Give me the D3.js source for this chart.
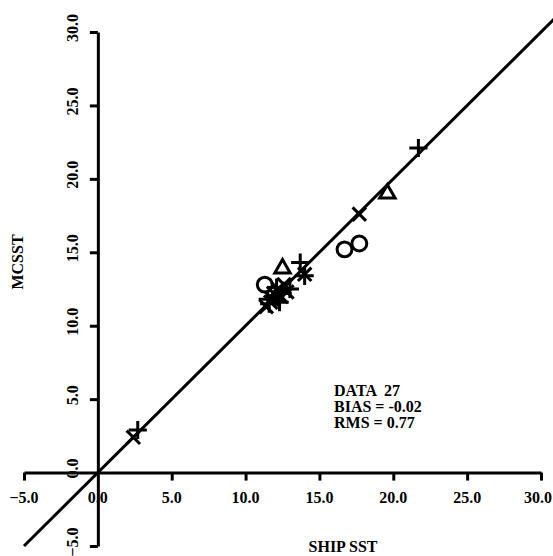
<!DOCTYPE html>
<html><head><meta charset="utf-8">
<script src="https://cdn.jsdelivr.net/npm/d3@7"></script>
<style>body{margin:0;background:#fff}svg{display:block}text{font-family:"Liberation Serif","Times New Roman",serif;font-weight:bold;fill:#000}</style>
</head><body>
<script>
const tickValues = [-5, 0, 5, 10, 15, 20, 25, 30];
const xTitle = "SHIP SST";
const yTitle = "MCSST";
const statsLines = ["DATA  27", "BIAS = -0.02", "RMS = 0.77"];
// marker type per point: plus, times, circle, triangle
const markers = ["times","plus","plus","triangle","times","circle","circle","triangle","circle","plus","plus","times","plus","times","plus","times","plus","times","plus","times","plus","times","plus","times","plus","times","times"];
const shipSST = [2.4, 2.7, 21.7, 19.6, 17.7, 16.7, 17.7, 12.5, 11.3, 13.7, 14.0, 14.0, 13.0, 12.2, 12.5, 11.8, 11.6, 11.4, 12.0, 12.6, 12.3, 11.9, 11.5, 12.8, 12.1, 11.7, 12.4];
const mcsst   = [2.4, 2.9, 22.1, 19.0, 17.6, 15.2, 15.6, 13.9, 12.8, 14.3, 13.4, 13.5, 12.5, 12.5, 12.2, 11.8, 11.5, 11.3, 12.0, 12.8, 11.6, 12.2, 11.8, 12.3, 12.6, 11.6, 12.0];
const lineRange = [-5, 31];

const W = 553, H = 556;
const svg = d3.select("body").append("svg").attr("width", W).attr("height", H);
const x = d3.scaleLinear().domain([-5, 30]).range([24, 541]);
const y = d3.scaleLinear().domain([-5, 30]).range([546, 32]);
const fmt = d3.format(".1f");
const SW = 3;

// tick labels
svg.append("g").selectAll("text").data(tickValues).join("text")
  .attr("x", d => x(d) - (d === 30 ? 3 : 0)).attr("y", y(0) + 30)
  .attr("text-anchor", "middle").attr("font-size", 16).text(fmt);
svg.append("g").selectAll("text").data(tickValues).join("text")
  .attr("transform", d => `translate(${x(0) - 20},${y(d) - 4}) rotate(-90)`)
  .attr("text-anchor", "middle").attr("font-size", 16).text(fmt);

// axes
const xAxis = d3.axisBottom(x).tickValues(tickValues).tickSize(8).tickSizeOuter(0).tickFormat("");
const yAxis = d3.axisLeft(y).tickValues(tickValues).tickSize(8).tickSizeOuter(0).tickFormat("");
const gx = svg.append("g").attr("transform", `translate(0,${y(0)})`).call(xAxis);
const gy = svg.append("g").attr("transform", `translate(${x(0)},0)`).call(yAxis);
[gx, gy].forEach(g => {
  g.selectAll("path,line").attr("stroke", "#000").attr("stroke-width", SW);
  g.select(".domain").attr("stroke-width", 3);
});
gx.selectAll(".tick").filter(d => d === 0).remove();
gy.selectAll(".tick").filter(d => d === 0).remove();

// 1:1 line
svg.append("line")
  .attr("x1", x(lineRange[0])).attr("y1", y(lineRange[0]))
  .attr("x2", x(lineRange[1])).attr("y2", y(lineRange[1]))
  .attr("stroke", "#000").attr("stroke-width", 3);

// markers
const symType = {plus: d3.symbolPlus, times: d3.symbolTimes, circle: d3.symbolCircle, triangle: d3.symbolTriangle2};
const symSize = {plus: 110, times: 120, circle: 175, triangle: 170};
svg.append("g").selectAll("path").data(d3.range(shipSST.length)).join("path")
  .attr("transform", i => `translate(${x(shipSST[i])},${y(mcsst[i])})`)
  .attr("d", i => d3.symbol(symType[markers[i]], symSize[markers[i]])())
  .attr("fill", "none").attr("stroke", "#000").attr("stroke-width", SW);

// titles
svg.append("text").attr("x", 343).attr("y", 552).attr("text-anchor", "middle")
  .attr("font-size", 16).text(xTitle);
svg.append("text").attr("transform", `translate(23,262) rotate(-90)`).attr("text-anchor", "middle")
  .attr("font-size", 16).text(yTitle);

// stats
svg.append("g").selectAll("text").data(statsLines).join("text")
  .attr("x", 334).attr("y", (d, i) => 396 + i * 16)
  .attr("font-size", 16).attr("xml:space", "preserve").style("white-space", "pre").text(d => d);
</script>
</body></html>
